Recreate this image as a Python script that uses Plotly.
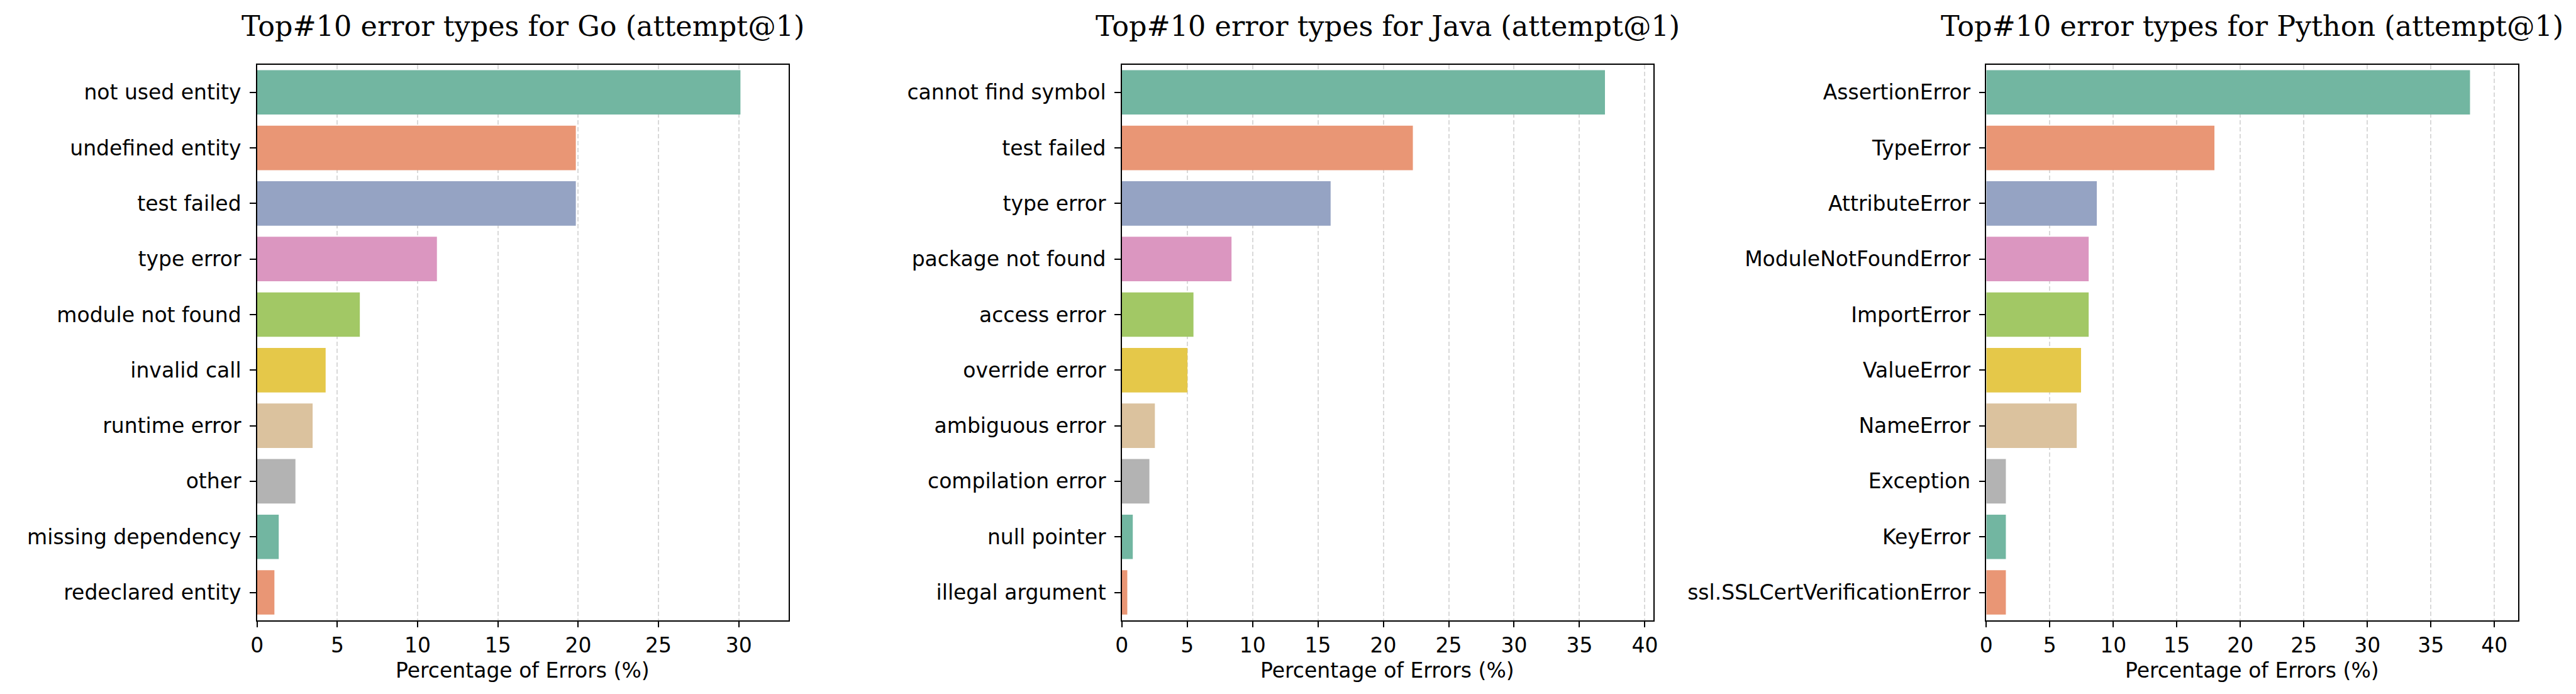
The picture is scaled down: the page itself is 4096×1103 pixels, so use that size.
import colorsys
import plotly.graph_objects as go

# ---------------- data ----------------
go_labels = ["not used entity", "undefined entity", "test failed", "type error",
             "module not found", "invalid call", "runtime error", "other",
             "missing dependency", "redeclared entity"]
go_values = [30.1, 19.85, 19.85, 11.2, 6.4, 4.27, 3.46, 2.39, 1.35, 1.08]

java_labels = ["cannot find symbol", "test failed", "type error", "package not found",
               "access error", "override error", "ambiguous error", "compilation error",
               "null pointer", "illegal argument"]
java_values = [36.95, 22.26, 15.97, 8.39, 5.48, 5.02, 2.53, 2.11, 0.84, 0.42]

py_labels = ["AssertionError", "TypeError", "AttributeError", "ModuleNotFoundError",
             "ImportError", "ValueError", "NameError", "Exception", "KeyError",
             "ssl.SSLCertVerificationError"]
py_values = [38.08, 17.96, 8.70, 8.06, 8.06, 7.46, 7.12, 1.54, 1.54, 1.54]

titles = ["Top#10 error types for Go (attempt@1)",
          "Top#10 error types for Java (attempt@1)",
          "Top#10 error types for Python (attempt@1)"]
xlabel = "Percentage of Errors (%)"

set2 = ["#66c2a5", "#fc8d62", "#8da0cb", "#e78ac3", "#a6d854", "#ffd92f", "#e5c494", "#b3b3b3"]


def desat(hexc, prop=0.75):
    r, g, b = (int(hexc[i:i + 2], 16) / 255 for i in (1, 3, 5))
    h, l, s = colorsys.rgb_to_hls(r, g, b)
    r, g, b = colorsys.hls_to_rgb(h, l, s * prop)
    return "rgb(%d,%d,%d)" % (round(r * 255), round(g * 255), round(b * 255))


palette = [desat(c) for c in set2]

# ---------------- layout geometry ----------------
W, H = 4096, 1103
x_domains = [[399.6 / W, 1249.0 / W], [1781.0 / W, 2630.0 / W], [3162.0 / W, 4012.0 / W]]
y_domain = [1 - 985.7 / H, 1 - 102.6 / H]

TICK_FONT = dict(family="DejaVu Sans", size=33, color="black")
TITLE_FONT = dict(family="DejaVu Serif", size=44.5, color="black")

panels = [(go_labels, go_values), (java_labels, java_values), (py_labels, py_values)]

fig = go.Figure()
annotations = []
layout = {}
for k, (labels, values) in enumerate(panels):
    suf = "" if k == 0 else str(k + 1)
    fig.add_trace(go.Bar(
        x=values, y=labels, orientation="h",
        marker=dict(color=[palette[i % len(palette)] for i in range(len(values))],
                    line=dict(width=0)),
        width=0.8,
        xaxis="x" + suf, yaxis="y" + suf,
        showlegend=False, hoverinfo="x+y",
    ))
    layout["xaxis" + suf] = dict(
        domain=x_domains[k], anchor="y" + suf,
        range=[0, max(values) * 1.1],
        tick0=0, dtick=5, ticks="outside", ticklen=9.6, tickwidth=1.9, tickcolor="black",
        showline=True, linecolor="black", linewidth=1.9, mirror=True,
        showgrid=True, gridcolor="#d9d9d9", gridwidth=1.7, griddash="7px,4px",
        zeroline=False, tickfont=TICK_FONT,
    )
    layout["yaxis" + suf] = dict(
        domain=y_domain, anchor="x" + suf,
        type="category", categoryorder="array", categoryarray=labels,
        range=[len(labels) - 0.5, -0.5],
        ticks="outside", ticklen=9.6, tickwidth=1.9, tickcolor="black",
        ticklabelstandoff=7,
        showline=True, linecolor="black", linewidth=1.9, mirror=True,
        showgrid=False, zeroline=False, tickfont=TICK_FONT,
    )
    xc = (x_domains[k][0] + x_domains[k][1]) / 2
    annotations.append(dict(text=titles[k], x=xc, y=1 - 41 / H, xref="paper", yref="paper",
                            xanchor="center", yanchor="middle", showarrow=False, font=TITLE_FONT))
    annotations.append(dict(text=xlabel, x=xc, y=1 - 1065 / H, xref="paper", yref="paper",
                            xanchor="center", yanchor="middle", showarrow=False, font=TICK_FONT))

fig.update_layout(
    width=W, height=H,
    margin=dict(l=0, r=0, t=0, b=0),
    paper_bgcolor="white", plot_bgcolor="white",
    annotations=annotations, bargap=0.2,
    **layout,
)

fig.write_html("out.html", config={"displayModeBar": False},
               post_script="document.body.style.margin='0';")
